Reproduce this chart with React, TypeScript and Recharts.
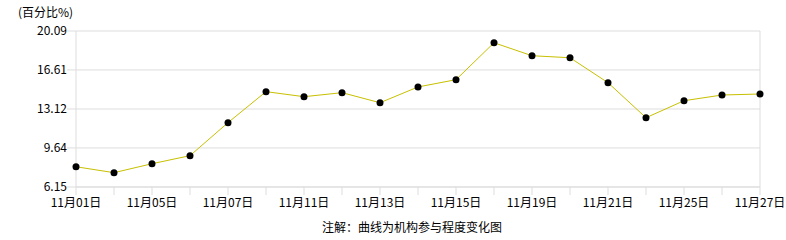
import React from 'react';
import { LineChart, Line, XAxis, YAxis, CartesianGrid, ReferenceLine } from 'recharts';

const dates = [
  '11月01日', '11月04日', '11月05日', '11月06日', '11月07日', '11月08日', '11月11日',
  '11月12日', '11月13日', '11月14日', '11月15日', '11月18日', '11月19日', '11月20日',
  '11月21日', '11月22日', '11月25日', '11月26日', '11月27日',
];

const values = [
  7.96, 7.43, 8.23, 8.95, 11.9, 14.67, 14.22, 14.58, 13.68, 15.09,
  15.74, 19.04, 17.88, 17.7, 15.47, 12.34, 13.86, 14.37, 14.46,
];

const yTicks = [6.15, 9.64, 13.12, 16.61, 20.09];

const data = dates.map((d, i) => ({ date: d, v: values[i] }));

const font = "'Noto Sans CJK SC', 'DejaVu Sans', sans-serif";
const gridColor = '#dddddd';

const App: React.FC = () => {
  return (
    <div style={{ position: 'absolute', left: 0, top: 0, width: 786, height: 240, background: '#fff', fontFamily: font }}>
      <div style={{ position: 'absolute', left: 18, top: 3, fontSize: 12, color: '#000' }}>(百分比%)</div>
      <LineChart width={786} height={240} data={data} margin={{ top: 31, right: 26, bottom: 23, left: 0 }}>
        <CartesianGrid vertical={false} stroke={gridColor} />
        <XAxis
          dataKey="date"
          interval={0}
          tickSize={8}
          tickMargin={3}
          axisLine={{ stroke: gridColor }}
          tickLine={{ stroke: gridColor }}
          tick={{ fill: '#000', fontSize: 12, fontFamily: font }}
          tickFormatter={(v: string, i: number) => (i % 2 === 0 ? v : '')}
          height={30}
        />
        <YAxis
          type="number"
          domain={[6.15, 20.09]}
          ticks={yTicks}
          tickFormatter={(v: number) => v.toFixed(2)}
          width={76}
          tickSize={9}
          tickMargin={0}
          axisLine={{ stroke: gridColor }}
          tickLine={{ stroke: gridColor }}
          tick={{ fill: '#000', fontSize: 12, fontFamily: font }}
        />
        <ReferenceLine x={dates[dates.length - 1]} stroke={gridColor} />
        <Line
          type="linear"
          dataKey="v"
          stroke="#c8c000"
          strokeWidth={1}
          dot={{ r: 3.5, fill: '#000', stroke: '#000', strokeWidth: 0 }}
          activeDot={false}
          isAnimationActive={false}
        />
      </LineChart>
      <div style={{ position: 'absolute', left: 0, width: 824, top: 218, textAlign: 'center', fontSize: 12, color: '#000' }}>
        注解：曲线为机构参与程度变化图
      </div>
    </div>
  );
};

export default App;
